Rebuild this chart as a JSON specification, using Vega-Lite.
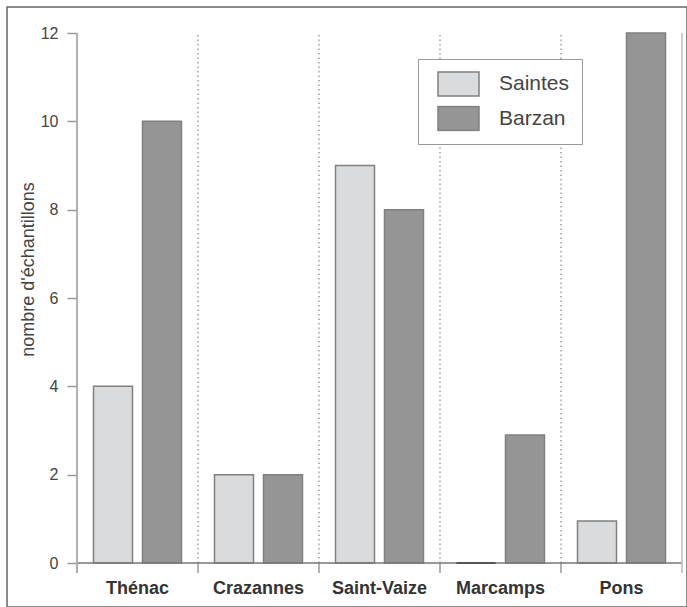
{
  "$schema": "https://vega.github.io/schema/vega-lite/v6.json",
  "autosize": "none",
  "width": 680,
  "height": 600,
  "padding": {"left": 7, "top": 7, "right": 0, "bottom": 0},
  "background": "white",
  "config": {
    "view": {"stroke": "#666666", "strokeWidth": 1.5},
    "font": "Liberation Sans"
  },
  "data": {
    "values": [
      {"site": "Thénac", "ville": "Saintes", "n": 4},
      {"site": "Thénac", "ville": "Barzan", "n": 10},
      {"site": "Crazannes", "ville": "Saintes", "n": 2},
      {"site": "Crazannes", "ville": "Barzan", "n": 2},
      {"site": "Saint-Vaize", "ville": "Saintes", "n": 9},
      {"site": "Saint-Vaize", "ville": "Barzan", "n": 8},
      {"site": "Marcamps", "ville": "Saintes", "n": 0},
      {"site": "Marcamps", "ville": "Barzan", "n": 2.9},
      {"site": "Pons", "ville": "Saintes", "n": 0.95},
      {"site": "Pons", "ville": "Barzan", "n": 12}
    ]
  },
  "layer": [
    {
      "mark": {"type": "bar", "stroke": "#808080", "strokeWidth": 1.5},
      "encoding": {
        "x": {
          "field": "site",
          "type": "nominal",
          "sort": ["Thénac", "Crazannes", "Saint-Vaize", "Marcamps", "Pons"],
          "scale": {"paddingInner": 0, "paddingOuter": 0.3099, "align": 0.9333},
          "axis": {
            "title": null,
            "orient": "bottom",
            "offset": -44,
            "bandPosition": 0.5,
            "domain": false,
            "ticks": false,
            "labelAngle": 0,
            "labelAlign": "center",
            "labelPadding": 16,
            "labelFontSize": 18,
            "labelFontWeight": "bold",
            "labelColor": "#333333",
            "grid": false
          }
        },
        "xOffset": {
          "field": "ville",
          "type": "nominal",
          "scale": {"domain": ["Saintes", "Barzan"], "paddingInner": 0.204, "paddingOuter": 0.337}
        },
        "y": {
          "field": "n",
          "type": "quantitative",
          "scale": {"domain": [-0.996, 12.589], "nice": false, "zero": false},
          "axis": {
            "title": "nombre d'échantillons",
            "offset": -70,
            "values": [0, 2, 4, 6, 8, 10, 12],
            "domain": false,
            "grid": false,
            "tickSize": 10,
            "tickColor": "#999999",
            "tickWidth": 1.5,
            "labelPadding": 9,
            "labelFontSize": 16,
            "labelColor": "#444444",
            "titleFontSize": 18,
            "titleFontWeight": "normal",
            "titleColor": "#444444",
            "titleX": -44,
            "titleY": 262,
            "titleBaseline": "alphabetic",
            "titleAngle": -90
          }
        },
        "y2": {"datum": 0},
        "color": {
          "field": "ville",
          "type": "nominal",
          "scale": {"domain": ["Saintes", "Barzan"], "range": ["#dadbdd", "#959595"]},
          "legend": {
            "title": null,
            "orient": "none",
            "legendX": 411,
            "legendY": 52,
            "padding": 12,
            "strokeColor": "#999999",
            "fillColor": "white",
            "symbolType": "M-1,-0.585H1V0.585H-1Z",
            "symbolSize": 1681,
            "symbolStrokeColor": "#808080",
            "symbolStrokeWidth": 1.5,
            "symbolOffset": 7,
            "labelOffset": 19,
            "clipHeight": 26,
            "rowPadding": 8.5,
            "labelFontSize": 21,
            "labelColor": "#444444"
          }
        }
      }
    },
    {
      "transform": [{"filter": "datum.ville === 'Saintes' && datum.site !== 'Thénac'"}],
      "mark": {"type": "rule", "color": "#888888", "strokeWidth": 1.2, "strokeDash": [1.5, 3]},
      "encoding": {
        "x": {"field": "site", "type": "nominal", "bandPosition": 0, "sort": ["Thénac", "Crazannes", "Saint-Vaize", "Marcamps", "Pons"]},
        "y": {"datum": 0},
        "y2": {"datum": 12}
      }
    },
    {
      "transform": [{"filter": "datum.ville === 'Saintes'"}],
      "mark": {"type": "rule", "color": "#999999", "strokeWidth": 1.5},
      "encoding": {
        "x": {"field": "site", "type": "nominal", "bandPosition": 0, "sort": ["Thénac", "Crazannes", "Saint-Vaize", "Marcamps", "Pons"]},
        "y": {"datum": -0.226},
        "y2": {"datum": 0}
      }
    },
    {
      "transform": [{"filter": "datum.ville === 'Saintes'"}],
      "mark": {"type": "rect", "fill": null, "stroke": "#777777", "strokeWidth": 1.5},
      "encoding": {
        "x": {"field": "site", "type": "nominal", "sort": ["Thénac", "Crazannes", "Saint-Vaize", "Marcamps", "Pons"]},
        "y": {"datum": 0},
        "y2": {"datum": 0}
      }
    },
    {
      "transform": [{"filter": "datum.site === 'Marcamps' && datum.ville === 'Saintes'"}],
      "mark": {"type": "bar", "fill": null, "stroke": "#555555", "strokeWidth": 2},
      "encoding": {
        "x": {"field": "site", "type": "nominal", "sort": ["Thénac", "Crazannes", "Saint-Vaize", "Marcamps", "Pons"]},
        "xOffset": {"field": "ville", "type": "nominal"},
        "y": {"field": "n", "type": "quantitative"},
        "y2": {"datum": 0}
      }
    },
    {
      "transform": [{"filter": "datum.ville === 'Saintes' && datum.site === 'Thénac'"}],
      "mark": {"type": "rule", "color": "#aaaaaa", "strokeWidth": 1.8},
      "encoding": {
        "x": {"field": "site", "type": "nominal", "bandPosition": 0, "sort": ["Thénac", "Crazannes", "Saint-Vaize", "Marcamps", "Pons"]},
        "y": {"datum": -0.226},
        "y2": {"datum": 12}
      }
    },
    {
      "transform": [{"filter": "datum.ville === 'Saintes' && datum.site === 'Pons'"}],
      "mark": {"type": "rule", "color": "#bbbbbb", "strokeWidth": 1.5},
      "encoding": {
        "x": {"field": "site", "type": "nominal", "bandPosition": 1, "sort": ["Thénac", "Crazannes", "Saint-Vaize", "Marcamps", "Pons"]},
        "y": {"datum": -0.226},
        "y2": {"datum": 12}
      }
    }
  ]
}
